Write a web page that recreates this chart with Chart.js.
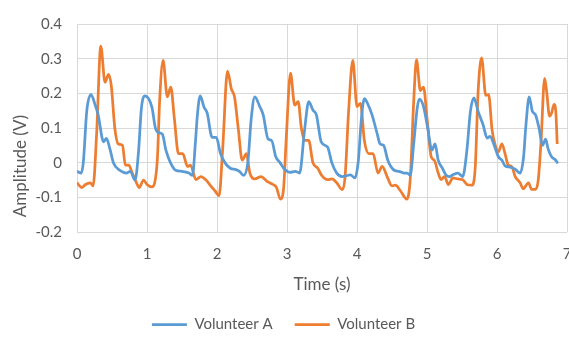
<!DOCTYPE html>
<html>
<head>
<meta charset="utf-8">
<script src="https://cdn.jsdelivr.net/npm/chart.js@4.4.1/dist/chart.umd.min.js"></script>
<style>
  html, body { margin: 0; padding: 0; background: #fff; }
  #wrap { width: 569px; height: 344px; }
</style>
</head>
<body>
<div id="wrap"><canvas id="ecg" width="569" height="344"></canvas></div>
<script>
// series names
const seriesNames = ['Volunteer A', 'Volunteer B'];
const seriesColors = ['#5B9BD5', '#ED7D31'];

// Volunteer A (blue)
const timeA = [0, 0.06, 0.09, 0.14, 0.2, 0.26, 0.3, 0.38, 0.42, 0.47, 0.52, 0.61, 0.71, 0.76, 0.83, 0.88, 0.92, 0.97,
  1.07, 1.12, 1.16, 1.22, 1.27, 1.34, 1.41, 1.5, 1.6, 1.65, 1.69, 1.72, 1.76, 1.815, 1.86, 1.93, 1.99,
  2.05, 2.12, 2.19, 2.27, 2.32, 2.38, 2.44, 2.49, 2.54, 2.61, 2.66, 2.73, 2.78, 2.84, 2.9, 2.97,
  3.04, 3.12, 3.18, 3.25, 3.31, 3.37, 3.42, 3.49, 3.58, 3.64, 3.71, 3.79, 3.86, 3.905, 3.97,
  4.02, 4.06, 4.105, 4.15, 4.215, 4.29, 4.33, 4.38, 4.44, 4.52, 4.6, 4.67, 4.72, 4.76, 4.81, 4.86, 4.89, 4.95,
  5.01, 5.07, 5.115, 5.16, 5.22, 5.27, 5.32, 5.37, 5.44, 5.51, 5.57, 5.62, 5.67, 5.73, 5.8, 5.86, 5.9, 5.96,
  6.02, 6.07, 6.115, 6.19, 6.26, 6.33, 6.38, 6.41, 6.46, 6.505, 6.55, 6.6, 6.65, 6.695, 6.73, 6.78, 6.83, 6.87];
const voltA = [-0.025, -0.03, 0, 0.15, 0.196, 0.166, 0.14, 0.06, 0.07, 0.04, 0, -0.022, -0.03, -0.025, -0.05, 0.035, 0.157, 0.193,
  0.16, 0.10, 0.087, 0.082, 0.036, -0.002, -0.022, -0.025, -0.03, -0.037, 0.054, 0.138, 0.193, 0.16, 0.143, 0.073, 0.073,
  0.026, -0.002, -0.016, -0.02, -0.025, -0.037, 0, 0.129, 0.19, 0.162, 0.138, 0.068, 0.064, 0.017, 0, -0.02,
  -0.028, -0.025, -0.03, 0.092, 0.176, 0.152, 0.138, 0.059, 0.045, 0, -0.03, -0.04, -0.037, -0.035, -0.044,
  0.007, 0.12, 0.185, 0.171, 0.138, 0.082, 0.054, 0.05, 0.007, -0.02, -0.025, -0.03, -0.03, -0.037, 0.054, 0.157, 0.183, 0.162,
  0.1, 0.036, 0.054, 0.007, -0.016, -0.035, -0.04, -0.035, -0.03, -0.04, 0.036, 0.148, 0.187, 0.148, 0.11, 0.071, 0.076, 0.05,
  0.017, 0.007, -0.009, -0.013, -0.019, -0.03, 0.017, 0.1, 0.19, 0.148, 0.138, 0.1, 0.05, 0.068, 0.04, 0.017, 0.009, -0.002];

// Volunteer B (orange)
const timeB = [0, 0.07, 0.12, 0.19, 0.23, 0.28, 0.34, 0.4, 0.45, 0.49, 0.54, 0.59, 0.65, 0.69, 0.74, 0.79, 0.85, 0.89, 0.95,
  1.0, 1.07, 1.11, 1.15, 1.18, 1.23, 1.29, 1.34, 1.39, 1.45, 1.51, 1.58, 1.62, 1.7, 1.77, 1.84, 1.91, 1.97,
  2.03, 2.08, 2.15, 2.205, 2.25, 2.305, 2.36, 2.42, 2.47, 2.54, 2.63, 2.71, 2.8, 2.85, 2.905, 2.95, 2.99,
  3.05, 3.11, 3.16, 3.205, 3.25, 3.31, 3.37, 3.44, 3.49, 3.58, 3.64, 3.71, 3.79, 3.83, 3.88, 3.94,
  4.0, 4.05, 4.105, 4.17, 4.23, 4.3, 4.36, 4.43, 4.5, 4.55, 4.62, 4.71, 4.76, 4.81, 4.85, 4.905, 4.95,
  5.0, 5.06, 5.105, 5.16, 5.2, 5.25, 5.305, 5.37, 5.44, 5.51, 5.57, 5.64, 5.69, 5.73, 5.78, 5.84, 5.88, 5.93, 5.97,
  6.02, 6.07, 6.115, 6.16, 6.21, 6.26, 6.33, 6.375, 6.45, 6.495, 6.55, 6.59, 6.63, 6.68, 6.71, 6.75, 6.78, 6.815, 6.84, 6.86];
const voltB = [-0.058, -0.072, -0.063, -0.058, -0.067, 0.082, 0.336, 0.232, 0.255, 0.222, 0.1, 0.054, 0.05, -0.007, -0.007, -0.03, -0.058, -0.072, -0.05,
  -0.063, -0.07, -0.058, 0.017, 0.176, 0.295, 0.19, 0.218, 0.129, 0.026, 0.026, -0.011, -0.007, -0.049, -0.04, -0.049, -0.067, -0.081,
  -0.095, 0.036, 0.264, 0.213, 0.19, 0.096, 0.007, 0.026, -0.03, -0.047, -0.04, -0.053, -0.063, -0.072, -0.105, -0.077, 0.073,
  0.258, 0.166, 0.176, 0.1, 0.064, 0.064, 0, -0.016, -0.035, -0.049, -0.047, -0.058, -0.078, -0.04, 0.148, 0.295,
  0.162, 0.171, 0.064, 0.026, 0.026, -0.03, -0.011, -0.04, -0.067, -0.065, -0.081, -0.105, -0.049, 0.176, 0.297, 0.208, 0.218,
  0.129, 0.017, 0.007, -0.03, -0.049, -0.04, -0.063, -0.044, -0.047, -0.049, -0.063, -0.065, -0.011, 0.204, 0.302, 0.194, 0.196, 0.094, 0.054,
  0.031, 0.054, 0.026, -0.007, -0.011, -0.04, -0.058, -0.075, -0.058, -0.077, -0.077, -0.049, 0.064, 0.243, 0.204, 0.134, 0.143, 0.168, 0.148, 0.054];

// axes
const xMin = 0, xMax = 7, xStep = 1;
const yMin = -0.2, yMax = 0.4, yStep = 0.1;
const xTitle = 'Time (s)';
const yTitle = 'Amplitude (V)';

const labelColor = '#595959';
const gridColor = '#D9D9D9';
const fontFamily = 'Lato, "Open Sans", sans-serif';
const tickSize = 15;
const titleSize = 17;

function toPoints(times, volts) {
    return times.map((t, i) => ({ x: t, y: volts[i] }));
}

// y axis title drawn by hand so it sits where the original put it
const yTitlePlugin = {
    id: 'yTitle',
    afterDraw(chart) {
        const ctx = chart.ctx;
        ctx.save();
        ctx.translate(20.5, 166);
        ctx.rotate(-Math.PI / 2);
        ctx.font = titleSize + 'px ' + fontFamily;
        ctx.fillStyle = labelColor;
        ctx.textAlign = 'center';
        ctx.textBaseline = 'middle';
        ctx.fillText(yTitle, 0, 0);
        ctx.restore();
    }
};

new Chart(document.getElementById('ecg'), {
    type: 'line',
    data: {
        datasets: [
            { label: seriesNames[0], data: toPoints(timeA, voltA) },
            { label: seriesNames[1], data: toPoints(timeB, voltB) }
        ].map((ds, i) => Object.assign(ds, {
            borderColor: seriesColors[i],
            backgroundColor: seriesColors[i],
            borderWidth: 2.75,
            pointRadius: 0,
            cubicInterpolationMode: 'monotone',
            fill: false
        }))
    },
    options: {
        responsive: false,
        animation: false,
        layout: { padding: { top: 19, right: 2, left: 0, bottom: 2 } },
        plugins: {
            legend: {
                position: 'bottom',
                labels: {
                    usePointStyle: true,
                    pointStyle: 'line',
                    pointStyleWidth: 35,
                    padding: 22,
                    color: labelColor,
                    font: { family: fontFamily, size: tickSize }
                }
            },
            tooltip: { enabled: false }
        },
        scales: {
            x: {
                type: 'linear',
                min: xMin,
                max: xMax,
                ticks: { stepSize: xStep, padding: 13, color: labelColor, font: { family: fontFamily, size: tickSize } },
                grid: { color: gridColor, drawTicks: false },
                border: { display: false },
                title: { display: true, text: xTitle, color: labelColor, font: { family: fontFamily, size: titleSize }, padding: { top: 10, bottom: 0 } },
                afterFit(scale) {
                    scale.height = 63;
                    scale.paddingLeft = 0;
                    scale.paddingRight = 0;
                }
            },
            y: {
                min: yMin,
                max: yMax,
                ticks: {
                    stepSize: yStep,
                    padding: 15,
                    color: labelColor,
                    font: { family: fontFamily, size: tickSize },
                    callback: v => (Math.abs(v) < 1e-9 ? '0' : String(+v.toFixed(1)))
                },
                grid: { color: gridColor, drawTicks: false },
                border: { display: false },
                afterFit(scale) {
                    scale.width = 77;
                }
            }
        }
    },
    plugins: [yTitlePlugin]
});
</script>
</body>
</html>
